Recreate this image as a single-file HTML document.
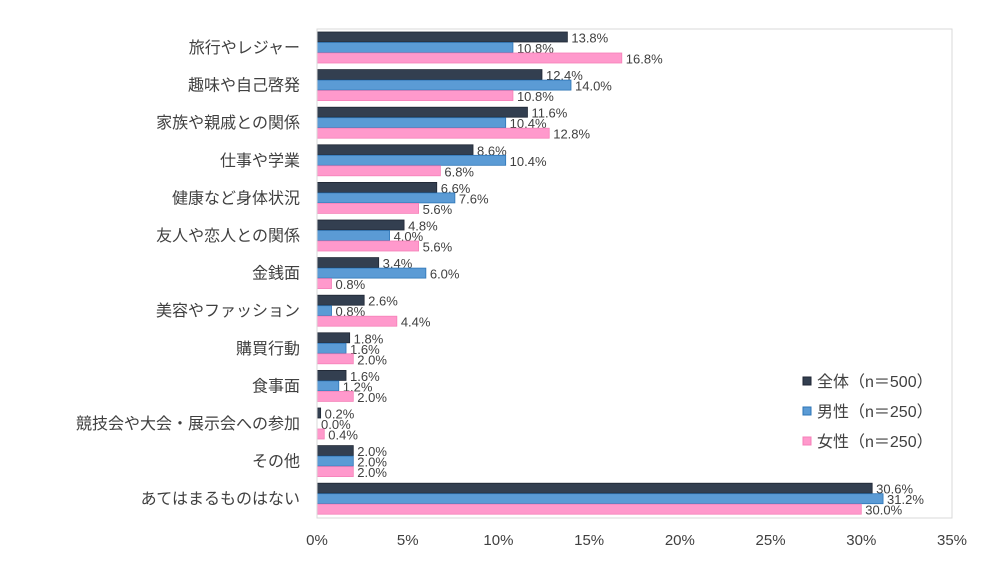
<!DOCTYPE html>
<html><head><meta charset="utf-8"><style>
body{margin:0;background:#fff;}
svg text{font-family:"Liberation Sans","Noto Sans CJK JP",sans-serif;fill:#404040;}
</style></head><body>
<svg id="c" width="1000" height="580" xmlns="http://www.w3.org/2000/svg">
<rect x="317" y="29" width="635" height="489" fill="none" stroke="#d9d9d9"/>
<g id="g"></g>
</svg>
<script>
const categories=["旅行やレジャー","趣味や自己啓発","家族や親戚との関係","仕事や学業","健康など身体状況","友人や恋人との関係","金銭面","美容やファッション","購買行動","食事面","競技会や大会・展示会への参加","その他","あてはまるものはない"];
const allValues=[13.8,12.4,11.6,8.6,6.6,4.8,3.4,2.6,1.8,1.6,0.2,2.0,30.6];
const maleValues=[10.8,14.0,10.4,10.4,7.6,4.0,6.0,0.8,1.6,1.2,0.0,2.0,31.2];
const femaleValues=[16.8,10.8,12.8,6.8,5.6,5.6,0.8,4.4,2.0,2.0,0.4,2.0,30.0];
const ticks=[0,5,10,15,20,25,30,35];
const seriesNames=["全体（n＝500）","男性（n＝250）","女性（n＝250）"];
const NS="http://www.w3.org/2000/svg";
const g=document.getElementById('g');
const x=v=>317+v*(952-317)/35;
const rowY=i=>32+i*37.6;
const fills=["#333f50","#5b9bd5","#ff99cc"],strokes=["#1f2633","#2e75b6","#f580b8"];
function mk(t,a){const e=document.createElementNS(NS,t);for(const k in a)e.setAttribute(k,a[k]);g.appendChild(e);return e;}
const series=[allValues,maleValues,femaleValues];
ticks.forEach(t=>{const e=mk('text',{x:x(t),y:545,'text-anchor':'middle','font-size':15});e.textContent=t+'%';

});
categories.forEach((c,i)=>{
const e=mk('text',{x:300,y:rowY(i)+21,'text-anchor':'end','font-size':16,fill:'#666'});e.textContent=c;


series.forEach((s,j)=>{
const y=rowY(i)+j*10.5;
const r=mk('rect',{x:317,y:y,width:Math.max(x(s[i])-317,0.01),height:10,fill:fills[j],stroke:s[i]>0?strokes[j]:'none','stroke-width':0.8});


const l=mk('text',{x:x(s[i])+4,y:y+10.5,'font-size':13});l.textContent=s[i].toFixed(1)+'%';


});
});
mk('line',{x1:317,y1:29,x2:317,y2:518,stroke:'#d9d9d9'});
seriesNames.forEach((n,j)=>{
const y=382+j*30;
const r=mk('rect',{x:803,y:y-5,width:8,height:8,fill:fills[j],stroke:strokes[j]});


const t=mk('text',{x:817,y:y+5,'font-size':16});t.textContent=n;


});
</script>
</body></html>
